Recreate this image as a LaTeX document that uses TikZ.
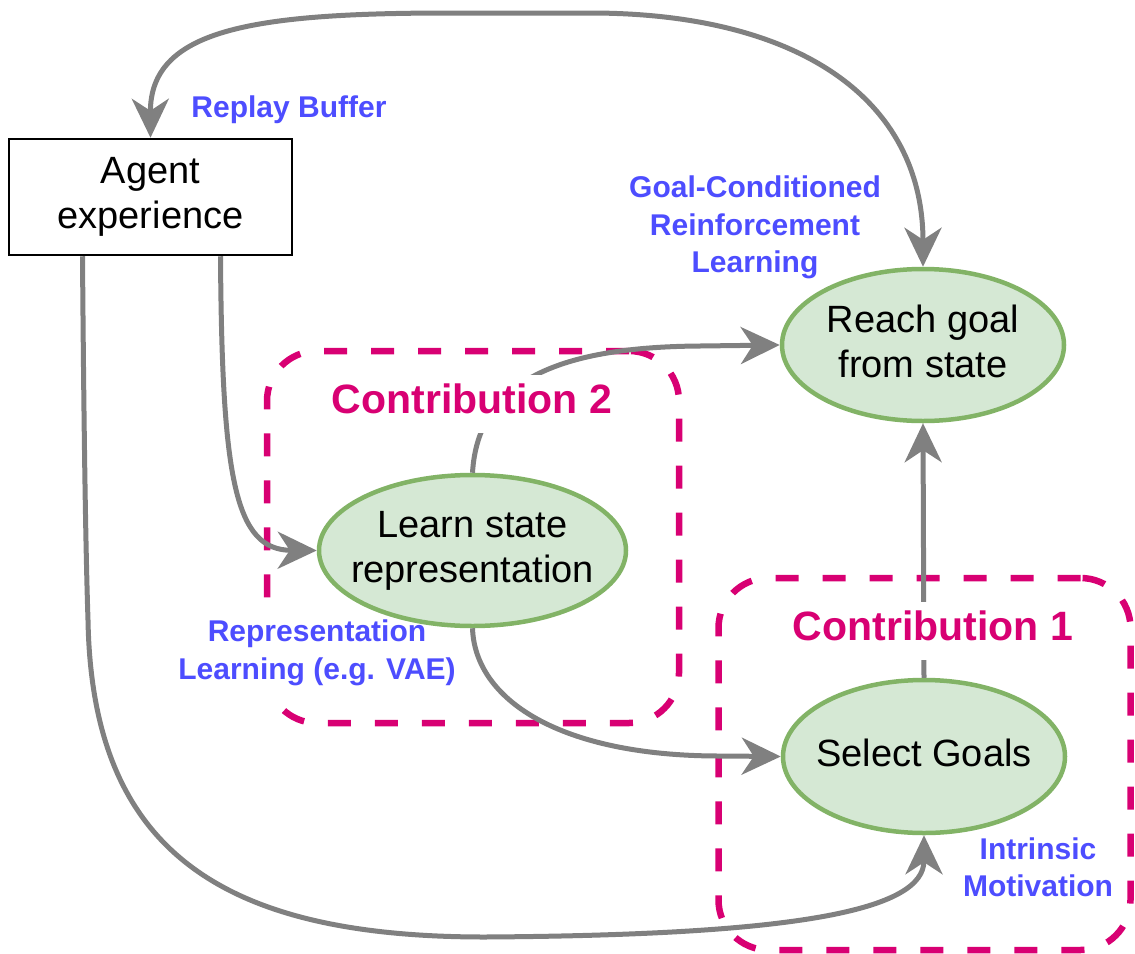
\documentclass[tikz,border=0pt]{standalone}
\usepackage{fontspec}
\setmainfont{Liberation Sans}
\usetikzlibrary{arrows.meta,shapes.geometric}

\definecolor{edgegray}{HTML}{808080}
\definecolor{contrib}{HTML}{D80073}
\definecolor{notecol}{HTML}{4D4DFF}
\definecolor{taskfill}{HTML}{D5E8D4}
\definecolor{taskline}{HTML}{82B366}

\tikzset{
  task/.style={ellipse, draw=taskline, fill=taskfill, line width=4.5pt,
    inner xsep=-20pt, inner ysep=0pt, align=center, text depth=8pt,
    font=\fontsize{38}{45}\selectfont},
  sourcebox/.style={rectangle, draw=black, fill=white, line width=2.5pt,
    inner sep=0pt, align=center, text depth=8pt,
    minimum width=283pt, minimum height=116pt,
    font=\fontsize{38}{45}\selectfont},
  tipshape/.tip={Stealth[length=39pt,width=37pt,inset=12pt]},
  flow/.style={draw=edgegray, line width=5pt, -tipshape},
  flowboth/.style={draw=edgegray, line width=5pt, tipshape-tipshape},
  contribbox/.style={rectangle, draw=contrib, line width=6.5pt,
    dash pattern=on 23pt off 24pt, rounded corners=50pt,
    minimum width=412pt, minimum height=372pt, inner sep=0pt},
  contriblabel/.style={fill=white, text=contrib, anchor=base,
    text height=34pt, text depth=16pt, inner ysep=4pt, inner xsep=6pt,
    font=\fontsize{41}{49}\selectfont\bfseries},
  note/.style={text=notecol, align=center, inner sep=0pt,
    font=\fontsize{30}{37.5}\selectfont\bfseries},
}

\begin{document}
\begin{tikzpicture}[x=1pt, y=-1pt]
  \useasboundingbox (0,0) rectangle (1135,953);

  % dashed contribution frames
  \node[contribbox] (c2frame) at (473,537) {};
  \node[contribbox] (c1frame) at (924.5,764) {};

  % annotation that sits on the left frame edge
  \node[note, fill=white, inner xsep=4pt, inner ysep=7pt] (replabel) at (317,653)
    {Representation\\Learning (e.g. VAE)};

  % main nodes
  \node[sourcebox] (agent) at (150.5,197) {Agent\\experience};
  \node[task, minimum width=282pt, minimum height=152pt] (reach) at (923,345)
    {Reach goal\\from state};
  \node[task, minimum width=307pt, minimum height=151pt] (learn) at (472.5,550.5)
    {Learn state\\representation};
  \node[task, minimum width=282pt, minimum height=153pt] (sel) at (924,756.5)
    {Select Goals};

  % connectors
  \draw[flowboth] (agent.north) .. controls (150,30) and (250,13) .. (450,13)
    -- (590,13) .. controls (800,13) and (923,100) .. (reach.north);
  \draw[flow] ([xshift=-68pt]agent.south) .. controls (84,450) and (86,560) .. (88,620)
    .. controls (92,850) and (220,937) .. (485,937)
    .. controls (800,935) and (924,910) .. (sel.south);
  \draw[flow] ([xshift=70pt]agent.south) .. controls (222,480) and (235,550) .. (learn.west);
  \draw[flow] (learn.north) .. controls (478,380) and (560,347) .. (700,346) -- (reach.west);
  \draw[flow] (learn.south) .. controls (475,700) and (560,756) .. (720,756) -- (sel.west);
  \draw[flow] (sel.north) -- (reach.south);

  % frame titles (mask the connectors beneath them)
  \node[contriblabel] (c2title) at (472,413) {Contribution 2};
  \node[contriblabel] (c1title) at (933,640) {Contribution 1};

  % remaining annotations
  \node[note, anchor=base] (buflabel) at (289,117) {Replay Buffer};
  \node[note] (gclabel) at (755,227.5) {Goal-Conditioned\\Reinforcement\\Learning};
  \node[note] (imlabel) at (1038,867.5) {Intrinsic\\Motivation};
\end{tikzpicture}
\end{document}
